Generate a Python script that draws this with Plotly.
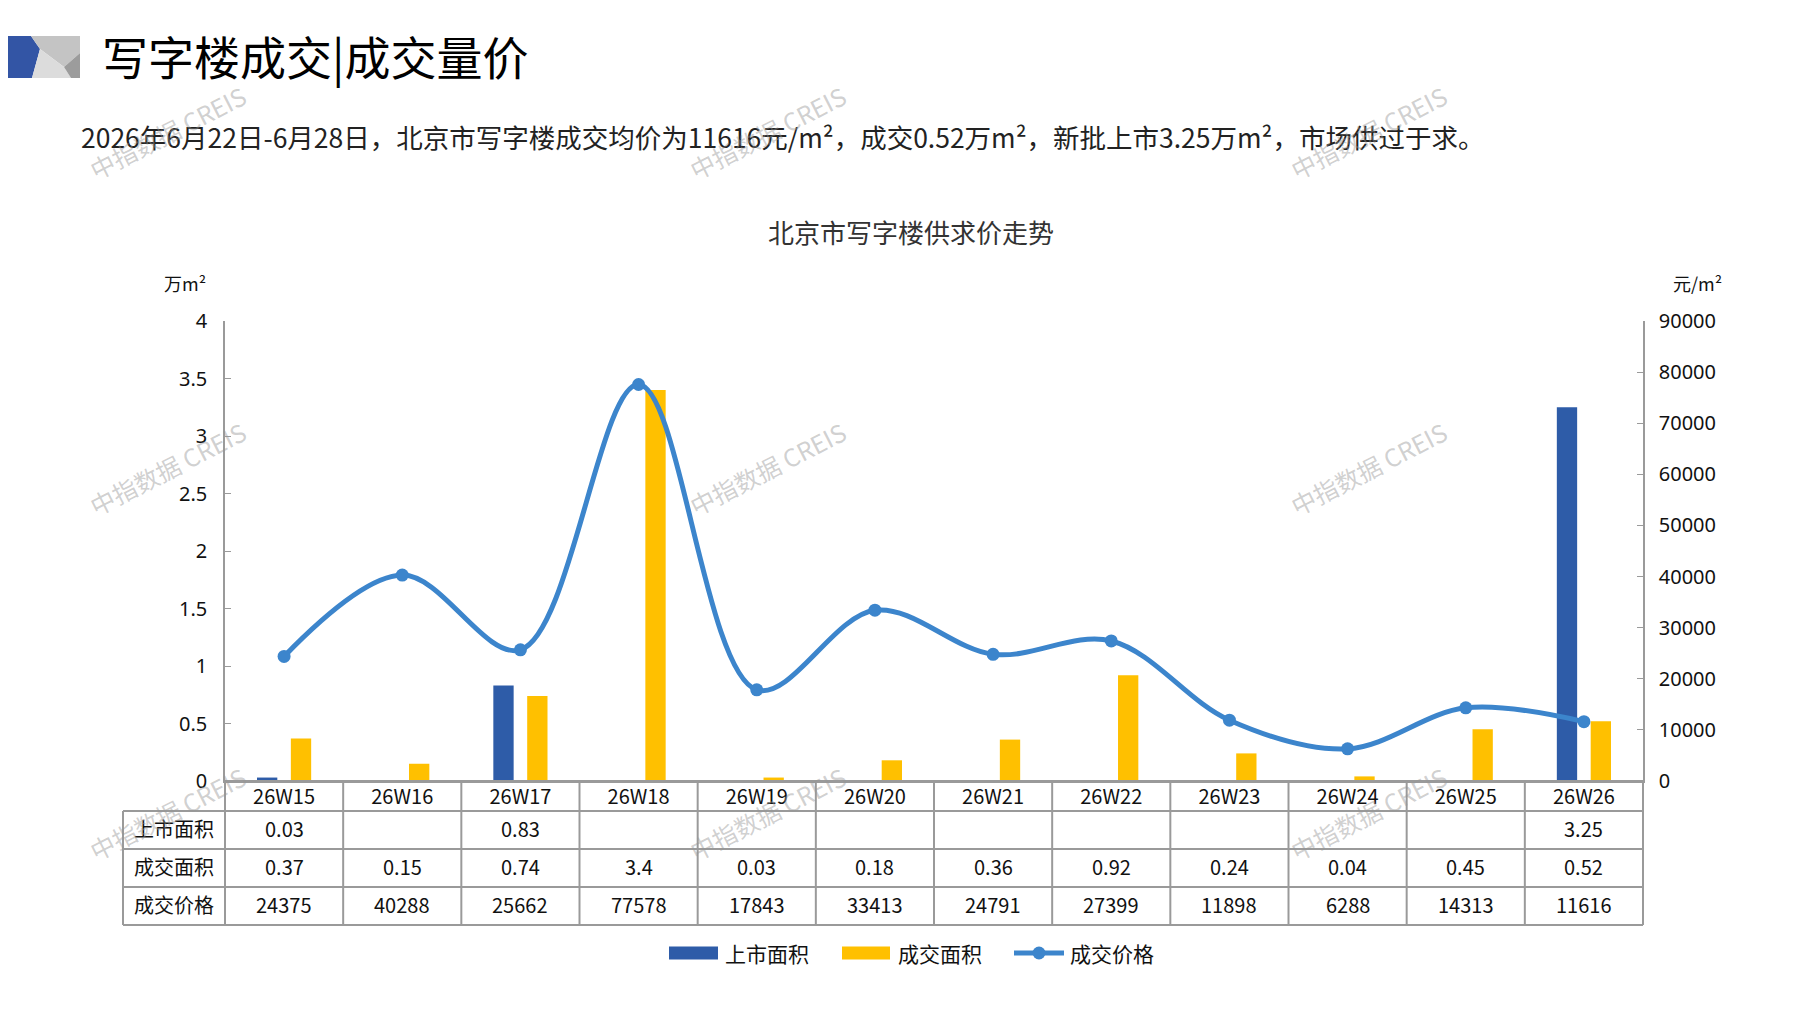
import plotly.graph_objects as go

# ---------------- data ----------------
weeks = ["26W15", "26W16", "26W17", "26W18", "26W19", "26W20",
         "26W21", "26W22", "26W23", "26W24", "26W25", "26W26"]
supply_area = [0.03, None, 0.83, None, None, None, None, None, None, None, None, 3.25]
deal_area = [0.37, 0.15, 0.74, 3.4, 0.03, 0.18, 0.36, 0.92, 0.24, 0.04, 0.45, 0.52]
deal_price = [24375, 40288, 25662, 77578, 17843, 33413, 24791, 27399, 11898, 6288, 14313, 11616]

series_names = ["上市面积", "成交面积", "成交价格"]
left_ticks = [0, 0.5, 1, 1.5, 2, 2.5, 3, 3.5, 4]
right_ticks = [0, 10000, 20000, 30000, 40000, 50000, 60000, 70000, 80000, 90000]

title_text = "写字楼成交|成交量价"
subtitle_text = "2026年6月22日-6月28日，北京市写字楼成交均价为11616元/m²，成交0.52万m²，新批上市3.25万m²，市场供过于求。"
chart_title = "北京市写字楼供求价走势"
left_unit = "万m²"
right_unit = "元/m²"
watermark = "中指数据 CREIS"

# ---------------- style ----------------
BLUE = "#2E5CA8"
YELLOW = "#FFC000"
LINE = "#3C85CC"
GRID = "#9a9a9a"
FONT = "Noto Sans CJK SC, Noto Sans, sans-serif"

W, H = 1797, 1010
L, R, T, B = 217, 1635, 313, 773


def px(X):
    return (X - L) / (R - L)


def py(Y):
    return (B - Y) / (B - T)


fig = go.Figure()
fig.add_trace(go.Bar(x=weeks, y=supply_area, name=series_names[0],
                     marker=dict(color=BLUE, line=dict(width=0)), yaxis="y"))
fig.add_trace(go.Bar(x=weeks, y=deal_area, name=series_names[1],
                     marker=dict(color=YELLOW, line=dict(width=0)), yaxis="y"))
fig.add_trace(go.Scatter(x=weeks, y=deal_price, name=series_names[2], yaxis="y2",
                         mode="lines+markers",
                         line=dict(color=LINE, width=5, shape="spline", smoothing=1.0),
                         marker=dict(color=LINE, size=13)))

shapes = []
annotations = []

# table rows (pixel y boundaries)
row_y = [773, 803, 841, 879, 917]
table_left = 115
# horizontal lines
shapes.append(dict(type="line", xref="paper", yref="paper", x0=0, x1=1,
                   y0=py(row_y[0]), y1=py(row_y[0]), line=dict(color=GRID, width=2)))
for yy in row_y[1:]:
    shapes.append(dict(type="line", xref="paper", yref="paper", x0=px(table_left), x1=1,
                       y0=py(yy), y1=py(yy), line=dict(color=GRID, width=2)))
# vertical lines
shapes.append(dict(type="line", xref="paper", yref="paper", x0=px(table_left), x1=px(table_left),
                   y0=py(row_y[1]), y1=py(row_y[-1]), line=dict(color=GRID, width=2)))
shapes.append(dict(type="line", xref="paper", yref="paper", x0=0, x1=0,
                   y0=py(row_y[0]), y1=py(row_y[-1]), line=dict(color=GRID, width=2)))
shapes.append(dict(type="line", xref="paper", yref="paper", x0=1, x1=1,
                   y0=py(row_y[0]), y1=py(row_y[-1]), line=dict(color=GRID, width=2)))
for k in range(1, len(weeks)):
    shapes.append(dict(type="line", xref="x", yref="paper", x0=k - 0.5, x1=k - 0.5,
                       y0=py(row_y[0]), y1=py(row_y[-1]), line=dict(color=GRID, width=2)))

# table text
row_centers = [(row_y[i] + row_y[i + 1]) / 2 - 2 for i in range(1, 4)]
rows = [supply_area, deal_area, deal_price]
for r, (vals, yc) in enumerate(zip(rows, row_centers)):
    annotations.append(dict(xref="paper", yref="paper", x=px((table_left + L) / 2), y=py(yc),
                            text=series_names[r], showarrow=False,
                            font=dict(size=20, color="#111", family=FONT),
                            xanchor="center", yanchor="middle"))
    for i, v in enumerate(vals):
        if v is None:
            continue
        annotations.append(dict(xref="x", yref="paper", x=weeks[i], y=py(yc),
                                text=str(v), showarrow=False,
                                font=dict(size=20, color="#111", family=FONT),
                                xanchor="center", yanchor="middle"))

# header logo
logo = [
    ("M 0 28 L 23 28 L 32 41 L 24 70 L 0 70 Z", "#3355A5"),
    ("M 23 28 L 72 28 L 72 45 L 56 59 L 32 41 Z", "#C4C4C4"),
    ("M 32 41 L 56 59 L 63 70 L 24 70 Z", "#DCDCDC"),
    ("M 56 59 L 72 45 L 72 70 L 63 70 Z", "#9C9C9C"),
]
for path, col in logo:
    pts = path.split()
    out = []
    i = 0
    while i < len(pts):
        tok = pts[i]
        if tok in ("M", "L"):
            X, Y = float(pts[i + 1]), float(pts[i + 2])
            out.append(f"{tok} {px(X):.5f},{py(Y):.5f}")
            i += 3
        else:
            out.append(tok)
            i += 1
    shapes.append(dict(type="path", xref="paper", yref="paper", path=" ".join(out),
                       fillcolor=col, line=dict(width=0)))

annotations.append(dict(xref="paper", yref="paper", x=px(92), y=py(47), text=title_text,
                        showarrow=False, xanchor="left", yanchor="middle",
                        font=dict(size=46, color="#000", family=FONT)))
annotations.append(dict(xref="paper", yref="paper", x=px(71), y=py(128), text=subtitle_text,
                        showarrow=False, xanchor="left", yanchor="middle",
                        font=dict(size=26.5, color="#222", family=FONT)))
annotations.append(dict(xref="paper", yref="paper", x=px(903), y=py(223), text=chart_title,
                        showarrow=False, xanchor="center", yanchor="middle",
                        font=dict(size=26, color="#333", family=FONT)))
annotations.append(dict(xref="paper", yref="paper", x=px(177), y=py(275), text=left_unit,
                        showarrow=False, xanchor="center", yanchor="middle",
                        font=dict(size=18, color="#111", family=FONT)))
annotations.append(dict(xref="paper", yref="paper", x=px(1689), y=py(275), text=right_unit,
                        showarrow=False, xanchor="center", yanchor="middle",
                        font=dict(size=18, color="#111", family=FONT)))

# manual legend
LEG_Y = 945
shapes.append(dict(type="rect", xref="paper", yref="paper", x0=px(661), x1=px(710),
                   y0=py(LEG_Y - 6.5), y1=py(LEG_Y + 6.5), fillcolor=BLUE, line=dict(width=0)))
shapes.append(dict(type="rect", xref="paper", yref="paper", x0=px(834), x1=px(882),
                   y0=py(LEG_Y - 6.5), y1=py(LEG_Y + 6.5), fillcolor=YELLOW, line=dict(width=0)))
shapes.append(dict(type="line", xref="paper", yref="paper", x0=px(1006), x1=px(1056),
                   y0=py(LEG_Y), y1=py(LEG_Y), line=dict(color=LINE, width=5)))
shapes.append(dict(type="circle", xref="paper", yref="paper", x0=px(1024.5), x1=px(1037.5),
                   y0=py(LEG_Y - 6.5), y1=py(LEG_Y + 6.5), fillcolor=LINE, line=dict(width=0)))
for xx, name in zip([715, 888, 1060], series_names):
    annotations.append(dict(xref="paper", yref="paper", x=px(xx), y=py(LEG_Y), text=name,
                            showarrow=False, xanchor="left", yanchor="middle",
                            font=dict(size=21, color="#111", family=FONT)))

# watermarks
for wx in [159, 759, 1360]:
    for wy in [124, 460, 805]:
        annotations.append(dict(xref="paper", yref="paper", x=px(wx), y=py(wy), text=watermark,
                                showarrow=False, textangle=-27, xanchor="center", yanchor="middle",
                                font=dict(size=24.5, color="rgba(150,150,150,0.45)",
                                          family="Noto Sans CJK SC, sans-serif")))

fig.update_layout(
    width=W, height=H,
    margin=dict(l=L, r=W - R, t=T, b=H - B, pad=0),
    paper_bgcolor="white", plot_bgcolor="white",
    barmode="group", bargap=0.427, bargroupgap=0.4,
    showlegend=False,
    font=dict(family=FONT, color="#111"),
    xaxis=dict(type="category", range=[-0.5, len(weeks) - 0.5], showgrid=False, zeroline=False,
               showline=True, linecolor=GRID, linewidth=2, ticks="",
               tickfont=dict(size=20, color="#111", family=FONT), ticklabelstandoff=-3),
    yaxis=dict(range=[0, 4], tickvals=left_ticks, showgrid=False, zeroline=False,
               showline=True, linecolor=GRID, linewidth=1.5, ticks="inside", ticklen=6,
               tickcolor=GRID, tickfont=dict(size=20, color="#111", family="Noto Sans, sans-serif"),
               ticklabelstandoff=12),
    yaxis2=dict(range=[0, 90000], tickvals=right_ticks, overlaying="y", side="right",
                showgrid=False, zeroline=False, showline=True, linecolor=GRID, linewidth=1.5,
                ticks="inside", ticklen=6, tickcolor=GRID, tickformat="d",
                tickfont=dict(size=20, color="#111", family="Noto Sans, sans-serif"),
                ticklabelstandoff=10),
    shapes=shapes,
    annotations=annotations,
)

fig.write_html("out.html")
